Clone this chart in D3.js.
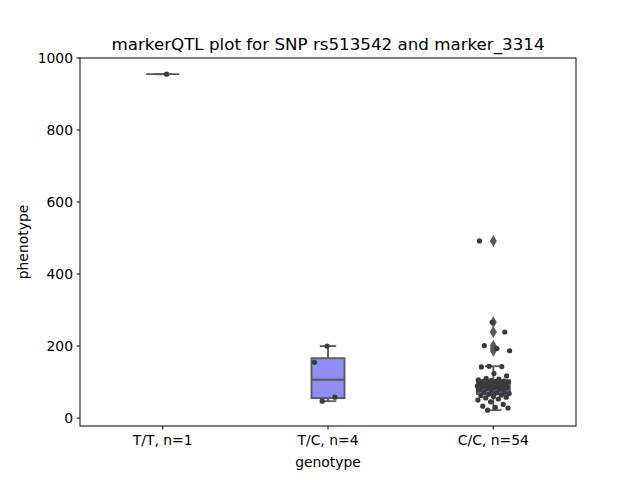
<!DOCTYPE html>
<html><head><meta charset="utf-8">
<script src="https://cdn.jsdelivr.net/npm/d3@7"></script>
<style>body{margin:0;background:#fff}text{font-family:"DejaVu Sans",sans-serif}</style>
</head><body><svg id="c" width="640" height="480"></svg>
<script>
const title = "markerQTL plot for SNP rs513542 and marker_3314";
const categories = ["T/T, n=1", "T/C, n=4", "C/C, n=54"];
const valuesTT = [955];
const valuesTC = [200, 155, 58, 47];
const valuesCC = [22,28,30,33,38,45,50,53,56,58,60,62,64,66,68,70,72,74,76,78,80,82,84,85,86,87,88,89,90,91,93,94,96,97,98,100,101,102,103,104,106,108,110,117,124,142,143,144,187,193,201,239,266,492];
const boxColors = ["#7f9ff0", "#8f8cf2", "#a14fe0"];
const yTicks = [0, 200, 400, 600, 800, 1000];
const xLabel = "genotype", yLabel = "phenotype";

const groups = [valuesTT, valuesTC, valuesCC];
const svg = d3.select("#c");
const L = 80, R = 576, T = 58, B = 426;
const x = d3.scaleLinear().domain([-0.5, 2.5]).range([L, R]);
const y = d3.scaleLinear().domain([-22, 1000]).range([B, T]);
const edge = "#595959";

const boxW = 0.2;
groups.forEach((vals, i) => {
  const s = vals.slice().sort(d3.ascending);
  const q1 = d3.quantile(s, 0.25), med = d3.quantile(s, 0.5), q3 = d3.quantile(s, 0.75);
  const iqr = q3 - q1;
  const inside = s.filter(v => v >= q1 - 1.5 * iqr && v <= q3 + 1.5 * iqr);
  const lo = d3.min(inside), hi = d3.max(inside);
  const out = s.filter(v => v < lo || v > hi);
  const g = svg.append("g");
  const x0 = x(i - boxW / 2), x1 = x(i + boxW / 2), xc = x(i);
  const cw = (x1 - x0) / 4;
  g.append("line").attr("x1", xc).attr("x2", xc).attr("y1", y(q3)).attr("y2", y(hi)).attr("stroke", edge).attr("stroke-width", 1.8);
  g.append("line").attr("x1", xc).attr("x2", xc).attr("y1", y(q1)).attr("y2", y(lo)).attr("stroke", edge).attr("stroke-width", 1.8);
  g.append("line").attr("x1", xc - cw).attr("x2", xc + cw).attr("y1", y(hi)).attr("y2", y(hi)).attr("stroke", edge).attr("stroke-width", 1.8);
  g.append("line").attr("x1", xc - cw).attr("x2", xc + cw).attr("y1", y(lo)).attr("y2", y(lo)).attr("stroke", edge).attr("stroke-width", 1.8);
  g.append("rect").attr("x", x0).attr("y", y(q3)).attr("width", x1 - x0).attr("height", Math.max(0, y(q1) - y(q3)))
    .attr("fill", boxColors[i]).attr("stroke", edge).attr("stroke-width", 1.8);
  g.append("line").attr("x1", x0).attr("x2", x1).attr("y1", y(med)).attr("y2", y(med)).attr("stroke", edge).attr("stroke-width", 1.8);
  out.forEach(v => {
    g.append("path").attr("d", d3.symbol(d3.symbolDiamond, 42)()).attr("transform", `translate(${xc},${y(v)})`)
      .attr("fill", edge);
  });
  // strip points with deterministic jitter
  vals.forEach((v, k) => {
    const j = (((k + i * 3 + 1) * 0.6180339887) % 1 - 0.5) * 0.2;
    svg.append("circle").attr("cx", x(i + j)).attr("cy", y(v)).attr("r", 2.6).attr("fill", "#3a3a3a");
  });
});

// frame
svg.append("rect").attr("x", L).attr("y", T).attr("width", R - L).attr("height", B - T).attr("fill", "none").attr("stroke", "#000").attr("stroke-width", 1);
// y axis
yTicks.forEach(t => {
  svg.append("line").attr("x1", L - 3.5).attr("x2", L).attr("y1", y(t)).attr("y2", y(t)).attr("stroke", "#000");
  svg.append("text").attr("x", L - 7).attr("y", y(t)).attr("dy", "0.35em").attr("text-anchor", "end").attr("font-size", 13.9).text(t);
});
categories.forEach((c, i) => {
  svg.append("line").attr("x1", x(i)).attr("x2", x(i)).attr("y1", B).attr("y2", B + 3.5).attr("stroke", "#000");
  svg.append("text").attr("x", x(i)).attr("y", B + 19).attr("text-anchor", "middle").attr("font-size", 13.9).text(c);
});
svg.append("text").attr("x", (L + R) / 2).attr("y", 467).attr("text-anchor", "middle").attr("font-size", 13.9).text(xLabel);
svg.append("text").attr("transform", `translate(28,${(T + B) / 2}) rotate(-90)`).attr("text-anchor", "middle").attr("font-size", 13.9).text(yLabel);
svg.append("text").attr("x", (L + R) / 2).attr("y", 50).attr("text-anchor", "middle").attr("font-size", 16.7).text(title);
</script></body></html>
